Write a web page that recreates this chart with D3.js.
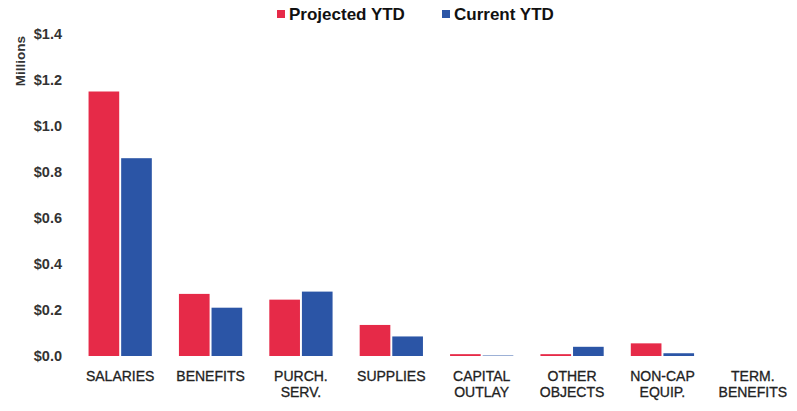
<!DOCTYPE html>
<html>
<head>
<meta charset="utf-8">
<script src="https://cdn.jsdelivr.net/npm/d3@7"></script>
<style>
  html, body { margin: 0; padding: 0; background: #fff; }
  svg { display: block; font-family: Arial, "Liberation Sans", sans-serif; }
</style>
</head>
<body>
<svg id="chart" width="797" height="411"></svg>
<script>
// Budget categories (multi-line labels split on "\n")
const categories = ["SALARIES", "BENEFITS", "PURCH.\nSERV.", "SUPPLIES", "CAPITAL\nOUTLAY", "OTHER\nOBJECTS", "NON-CAP\nEQUIP.", "TERM.\nBENEFITS"];
// Values in millions of dollars
const projectedYTD = [1.15, 0.27, 0.245, 0.135, 0.008, 0.008, 0.055, 0];
const currentYTD   = [0.86, 0.21, 0.28, 0.085, 0.002, 0.04, 0.012, 0];
const seriesNames  = ["Projected YTD", "Current YTD"];
const yTicks       = [0, 0.2, 0.4, 0.6, 0.8, 1.0, 1.2, 1.4];

const colors = { "Projected YTD": "#e62a48", "Current YTD": "#2b55a6" };

const svg = d3.select("#chart");

const y = d3.scaleLinear().domain([0, 1.4]).range([356, 34]);

const x0 = d3.scaleBand()
  .domain(categories)
  .range([75, 798])
  .paddingInner(0.3)
  .paddingOuter(0.15);

const x1 = d3.scaleBand()
  .domain(seriesNames)
  .range([0, x0.bandwidth()])
  .paddingInner(0.06);

const rows = categories.map((c, i) => ({
  category: c,
  values: [
    { key: "Projected YTD", value: projectedYTD[i] },
    { key: "Current YTD", value: currentYTD[i] }
  ]
}));

// Bars
const groups = svg.append("g").selectAll("g")
  .data(rows)
  .join("g")
  .attr("transform", d => `translate(${x0(d.category)},0)`);

groups.selectAll("rect")
  .data(d => d.values)
  .join("rect")
  .attr("x", d => x1(d.key))
  .attr("width", x1.bandwidth())
  .attr("y", d => y(d.value))
  .attr("height", d => y(0) - y(d.value))
  .attr("fill", d => colors[d.key]);

// Y axis (labels only)
const yAxis = d3.axisLeft(y)
  .tickValues(yTicks)
  .tickFormat(d => "$" + d3.format(".1f")(d))
  .tickSize(0)
  .tickPadding(0);

const yG = svg.append("g")
  .attr("transform", "translate(62,0)")
  .call(yAxis);
yG.select(".domain").remove();
yG.selectAll("text")
  .attr("font-size", 14.5)
  .attr("font-weight", "bold")
  .attr("fill", "#333");

// Y axis title
svg.append("text")
  .attr("transform", "translate(25,61) rotate(-90)")
  .attr("text-anchor", "middle")
  .attr("font-size", 13.5)
  .attr("font-weight", "bold")
  .attr("fill", "#333")
  .text("Millions");

// Category labels
const xLabels = svg.append("g").selectAll("text")
  .data(categories)
  .join("text")
  .attr("x", d => x0(d) + x0.bandwidth() / 2)
  .attr("y", 381)
  .attr("text-anchor", "middle")
  .attr("font-size", 14)
  .attr("fill", "#222")
  .attr("stroke", "#222")
  .attr("stroke-width", 0.3);

xLabels.each(function(d) {
  const lines = d.split("\n");
  d3.select(this).selectAll("tspan")
    .data(lines)
    .join("tspan")
    .attr("x", x0(d) + x0.bandwidth() / 2)
    .attr("dy", (l, i) => i === 0 ? 0 : 16)
    .text(l => l);
});

// Legend
const legendPos = [{ x: 277, tx: 289 }, { x: 442, tx: 454 }];
const legend = svg.append("g").selectAll("g")
  .data(seriesNames)
  .join("g");

legend.append("rect")
  .attr("x", (d, i) => legendPos[i].x)
  .attr("y", 10)
  .attr("width", 8)
  .attr("height", 8)
  .attr("fill", d => colors[d]);

legend.append("text")
  .attr("x", (d, i) => legendPos[i].tx)
  .attr("y", 20)
  .attr("font-size", 17)
  .attr("font-weight", "bold")
  .attr("fill", "#111")
  .text(d => d);
</script>
</body>
</html>
